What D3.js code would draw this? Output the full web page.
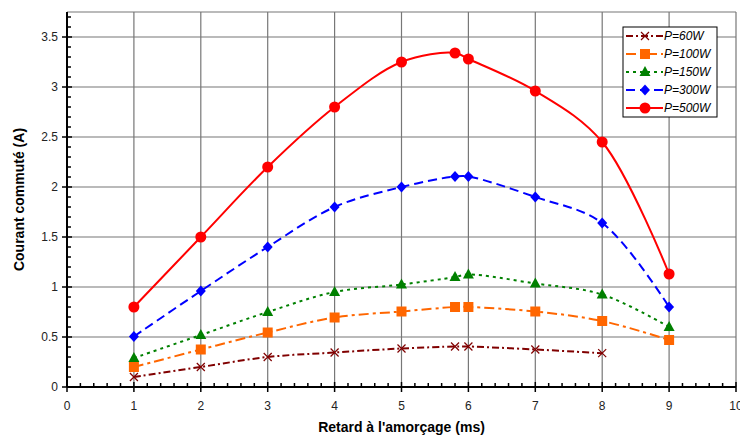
<!DOCTYPE html>
<html>
<head>
<meta charset="utf-8">
<script src="https://cdn.jsdelivr.net/npm/d3@7"></script>
<style>
  body { margin: 0; background: #fff; }
  svg { display: block; font-family: "Liberation Sans", Arial, sans-serif; }
</style>
</head>
<body>
<div id="chart"></div>
<script>
// retard (ms) for each measure
const retard = [1, 2, 3, 4, 5, 5.8, 6, 7, 8, 9];

const p60 = [0.1, 0.2, 0.3, 0.345, 0.385, 0.405, 0.405, 0.375, 0.338];
const p100 = [0.2, 0.375, 0.545, 0.695, 0.755, 0.8, 0.8, 0.755, 0.66, 0.47];
const p150 = [0.29, 0.52, 0.75, 0.95, 1.025, 1.1, 1.125, 1.035, 0.925, 0.6];
const p300 = [0.505, 0.96, 1.4, 1.8, 2.0, 2.105, 2.105, 1.9, 1.64, 0.8];
const p500 = [0.8, 1.5, 2.2, 2.8, 3.25, 3.34, 3.28, 2.96, 2.45, 1.13];

const seriesNames = ['P=60W', 'P=100W', 'P=150W', 'P=300W', 'P=500W'];

const xTicks = [0, 1, 2, 3, 4, 5, 6, 7, 8, 9, 10];
const yTicks = [0, 0.5, 1, 1.5, 2, 2.5, 3, 3.5];

const width = 740;
const height = 439;
const margin = { top: 12, right: 4, bottom: 52, left: 67 };

// style of each series
const styles = [
  { color: '#800000', dash: '7,3,2,3', marker: 'x' },
  { color: '#FF6600', dash: '10,4,3,4', marker: 'square' },
  { color: '#008000', dash: '3,4', marker: 'triangle' },
  { color: '#0000FF', dash: '9,5', marker: 'diamond' },
  { color: '#FF0000', dash: null, marker: 'circle' },
];

const series = [p60, p100, p150, p300, p500].map((vals, i) => ({
  name: seriesNames[i],
  style: styles[i],
  points: vals.map((v, j) => ({ x: retard[j], y: v })),
}));

const svg = d3
  .select('#chart')
  .append('svg')
  .attr('width', width)
  .attr('height', height);

const xScale = d3.scaleLinear().domain([0, 10]).range([margin.left, width - margin.right]);
const yScale = d3.scaleLinear().domain([0, 3.75]).range([height - margin.bottom, margin.top]);

// gridlines
const grid = svg.append('g').attr('class', 'grid');
grid
  .selectAll('line.h')
  .data(yTicks.filter((d) => d > 0).concat([3.75]))
  .join('line')
  .attr('class', 'h')
  .attr('x1', xScale(0))
  .attr('x2', xScale(10))
  .attr('y1', (d) => yScale(d))
  .attr('y2', (d) => yScale(d))
  .attr('stroke', '#777')
  .attr('stroke-width', 1.2);
grid
  .selectAll('line.v')
  .data(xTicks.filter((d) => d > 0))
  .join('line')
  .attr('class', 'v')
  .attr('x1', (d) => xScale(d))
  .attr('x2', (d) => xScale(d))
  .attr('y1', yScale(0))
  .attr('y2', yScale(3.75))
  .attr('stroke', '#777')
  .attr('stroke-width', 1.2);

// minor ticks (inside)
const minorY = d3.range(0, 3.75, 0.1).filter((d) => Math.abs(d * 2 - Math.round(d * 2)) > 0.01);
const minorX = d3.range(0, 10, 0.2).filter((d) => Math.abs(d - Math.round(d)) > 0.01);

const axisG = svg.append('g').attr('class', 'axes');

axisG
  .selectAll('line.my')
  .data(minorY)
  .join('line')
  .attr('class', 'my')
  .attr('x1', xScale(0))
  .attr('x2', xScale(0) + 4)
  .attr('y1', (d) => yScale(d))
  .attr('y2', (d) => yScale(d))
  .attr('stroke', '#000')
  .attr('stroke-width', 1.5);

axisG
  .selectAll('line.mx')
  .data(minorX)
  .join('line')
  .attr('class', 'mx')
  .attr('x1', (d) => xScale(d))
  .attr('x2', (d) => xScale(d))
  .attr('y1', yScale(0))
  .attr('y2', yScale(0) - 4)
  .attr('stroke', '#000')
  .attr('stroke-width', 1.5);

// major ticks cross the axis
axisG
  .selectAll('line.ty')
  .data(yTicks)
  .join('line')
  .attr('class', 'ty')
  .attr('x1', xScale(0) - 5)
  .attr('x2', xScale(0) + 5)
  .attr('y1', (d) => yScale(d))
  .attr('y2', (d) => yScale(d))
  .attr('stroke', '#000')
  .attr('stroke-width', 1.5);

axisG
  .selectAll('line.tx')
  .data(xTicks)
  .join('line')
  .attr('class', 'tx')
  .attr('x1', (d) => xScale(d))
  .attr('x2', (d) => xScale(d))
  .attr('y1', yScale(0) - 5)
  .attr('y2', yScale(0) + 5)
  .attr('stroke', '#000')
  .attr('stroke-width', 1.5);

// axis lines
axisG
  .append('line')
  .attr('x1', xScale(0))
  .attr('x2', xScale(0))
  .attr('y1', yScale(3.75))
  .attr('y2', yScale(0))
  .attr('stroke', '#000')
  .attr('stroke-width', 2);
axisG
  .append('line')
  .attr('x1', xScale(0))
  .attr('x2', xScale(10))
  .attr('y1', yScale(0))
  .attr('y2', yScale(0))
  .attr('stroke', '#000')
  .attr('stroke-width', 2);

// tick labels
axisG
  .selectAll('text.ly')
  .data(yTicks)
  .join('text')
  .attr('class', 'ly')
  .attr('x', xScale(0) - 9)
  .attr('y', (d) => yScale(d))
  .attr('dy', '0.35em')
  .attr('text-anchor', 'end')
  .attr('font-size', 12)
  .attr('fill', '#222')
  .text((d) => String(d));

axisG
  .selectAll('text.lx')
  .data(xTicks)
  .join('text')
  .attr('class', 'lx')
  .attr('x', (d) => xScale(d))
  .attr('y', yScale(0) + 19)
  .attr('dy', '0.35em')
  .attr('text-anchor', 'middle')
  .attr('font-size', 12)
  .attr('fill', '#222')
  .text((d) => String(d));

// axis titles
svg
  .append('text')
  .attr('x', xScale(5))
  .attr('y', 432)
  .attr('text-anchor', 'middle')
  .attr('font-size', 14)
  .attr('font-weight', 'bold')
  .text("Retard à l'amorçage (ms)");

svg
  .append('text')
  .attr('transform', `translate(24, ${yScale(1.875)}) rotate(-90)`)
  .attr('text-anchor', 'middle')
  .attr('font-size', 14)
  .attr('font-weight', 'bold')
  .text('Courant commuté (A)');

// lines (smoothed like the spreadsheet)
const line = d3
  .line()
  .x((d) => xScale(d.x))
  .y((d) => yScale(d.y))
  .curve(d3.curveCatmullRom.alpha(0.5));

function drawMarker(g, type, color) {
  if (type === 'x') {
    g.append('path')
      .attr('d', 'M-4,-4L4,4M-4,4L4,-4')
      .attr('stroke', color)
      .attr('stroke-width', 1.2)
      .attr('fill', 'none');
  } else if (type === 'square') {
    g.append('rect').attr('x', -5).attr('y', -5).attr('width', 10).attr('height', 10).attr('fill', color);
  } else if (type === 'triangle') {
    g.append('path').attr('d', 'M0,-6L5.5,4L-5.5,4Z').attr('fill', color);
  } else if (type === 'diamond') {
    g.append('path').attr('d', 'M0,-5.5L5,0L0,5.5L-5,0Z').attr('fill', color);
  } else {
    g.append('circle').attr('r', 5.5).attr('fill', color);
  }
}

const plot = svg.append('g').attr('class', 'series');

series.forEach((s) => {
  const g = plot.append('g');
  g.append('path')
    .datum(s.points)
    .attr('d', line)
    .attr('fill', 'none')
    .attr('stroke', s.style.color)
    .attr('stroke-width', 2)
    .attr('stroke-dasharray', s.style.dash);

  g.selectAll('g.pt')
    .data(s.points)
    .join('g')
    .attr('class', 'pt')
    .attr('transform', (d) => `translate(${xScale(d.x)},${yScale(d.y)})`)
    .each(function () {
      drawMarker(d3.select(this), s.style.marker, s.style.color);
    });
});

// legend
const legend = svg.append('g').attr('transform', 'translate(623, 27)');
legend
  .append('rect')
  .attr('width', 94)
  .attr('height', 90)
  .attr('fill', '#fff')
  .attr('stroke', '#000')
  .attr('stroke-width', 1);

const items = legend
  .selectAll('g.item')
  .data(series)
  .join('g')
  .attr('class', 'item')
  .attr('transform', (d, i) => `translate(0, ${9 + i * 18})`);

items
  .append('line')
  .attr('x1', 3)
  .attr('x2', 40)
  .attr('stroke', (d) => d.style.color)
  .attr('stroke-width', 2)
  .attr('stroke-dasharray', (d) => d.style.dash);

items.each(function (d) {
  const m = d3.select(this).append('g').attr('transform', 'translate(22,0)');
  drawMarker(m, d.style.marker, d.style.color);
});

items
  .append('text')
  .attr('x', 41)
  .attr('dy', '0.35em')
  .attr('font-size', 12)
  .attr('font-style', 'italic')
  .text((d) => d.name);
</script>
</body>
</html>
